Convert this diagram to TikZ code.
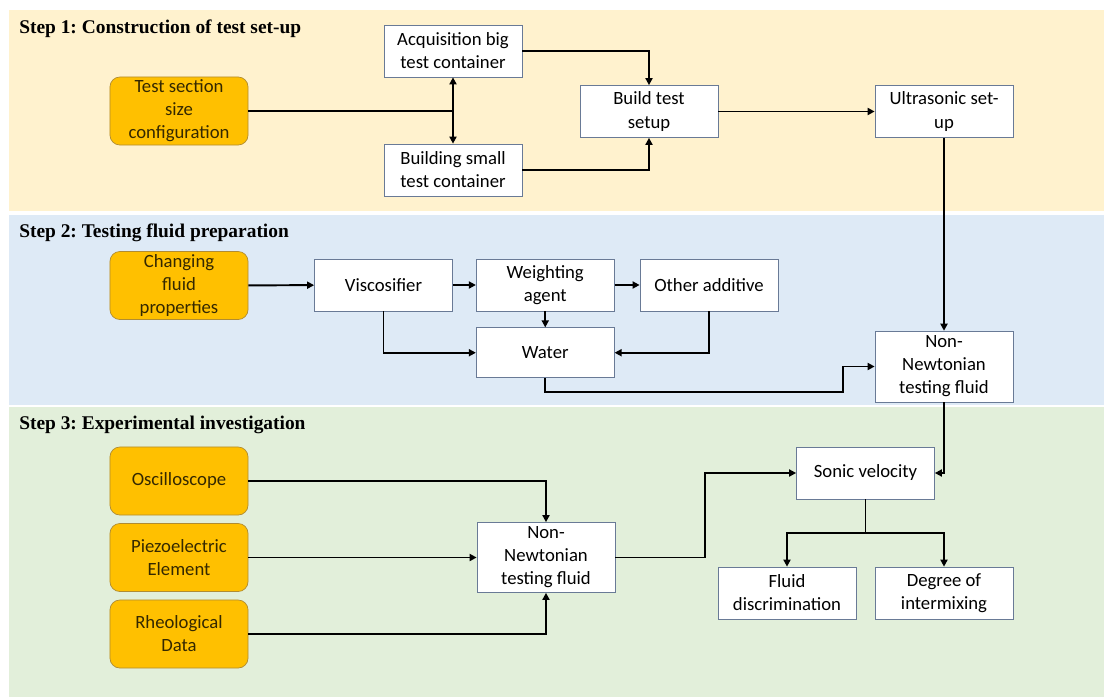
\documentclass[tikz,border=0pt]{standalone}
\usepackage{fontspec}
\setmainfont{Carlito}
\newfontfamily\titlefont{Liberation Serif}
\usetikzlibrary{arrows.meta,positioning,calc}
\definecolor{bandyellow}{RGB}{255,242,206}
\definecolor{bandblue}{RGB}{222,234,246}
\definecolor{bandgreen}{RGB}{226,239,218}
\definecolor{amber}{RGB}{255,192,0}
\definecolor{amberline}{RGB}{176,140,50}
\definecolor{boxline}{RGB}{105,122,150}
\definecolor{ambertext}{RGB}{52,40,0}
\frenchspacing

\begin{document}
\begin{tikzpicture}[x=0.025cm,y=-0.025cm,
  box/.style={draw=boxline,fill=white,line width=0.5pt,minimum width=3.45cm,minimum height=1.3cm,inner sep=1pt,align=center,font=\fontsize{13.3}{16.4}\selectfont},
  inbox/.style={draw=amberline,fill=amber,rounded corners=7pt,line width=0.5pt,minimum width=3.45cm,minimum height=1.7cm,inner sep=1pt,align=center,text=ambertext,font=\fontsize{13.3}{16.4}\selectfont},
  steptitle/.style={anchor=base west,inner sep=0pt,font=\titlefont\bfseries\fontsize{13.8}{16}\selectfont},
  flow/.style={line width=1.4pt,-{Triangle[length=5pt,width=5pt]}},
  plain/.style={line width=1.4pt}]
  \useasboundingbox (0,0) rectangle (1104,697);
  % bands
  \fill[bandyellow] (9,10) rectangle (1104,211);
  \fill[bandblue] (9,215) rectangle (1104,405);
  \fill[bandgreen] (9,407) rectangle (1104,697);
  \node[steptitle] (t1) at (19,33) {Step 1: Construction of test set-up};
  \node[steptitle] (t2) at (19,237) {Step 2: Testing fluid preparation};
  \node[steptitle] (t3) at (19,429) {Step 3: Experimental investigation};

  % step 1
  \node[inbox] (tsc) at (179,111) {Test section\\size\\configuration};
  \node[box] (acq) at (453,51) {Acquisition big\\test container};
  \node[box] (bsc) at (453,170) {Building small\\test container};
  \node[box] (bts) at (649,111.5) {Build test\\setup};
  \node[box] (uls) at (944,111.5) {Ultrasonic set-\\up};

  % step 2
  \node[inbox] (cfp) at (179,285.5) {Changing\\fluid\\properties};
  \node[box] (vis) at (383.5,285) {Viscosifier};
  \node[box,right=0.575cm of vis] (wag) {Weighting\\agent};
  \node[box,right=0.625cm of wag] (oad) {Other additive};
  \node[box,minimum height=1.25cm,below=0.4cm of wag] (wat) {Water};
  \node[box,minimum height=1.77cm] (nnf) at (944,366.5) {Non-\\Newtonian\\testing fluid};

  % step 3
  \node[inbox] (osc) at (179,481) {Oscilloscope};
  \node[inbox] (pze) at (179,557.5) {Piezoelectric\\Element};
  \node[inbox] (rhd) at (179,634) {Rheological\\Data};
  \node[box,minimum height=1.75cm] (nnt) at (546,557.5) {Non-\\Newtonian\\testing fluid};
  \node[box] (snv) at (865.5,473) {Sonic velocity};
  \node[box] (fdc) at (787,593) {Fluid\\discrimination};
  \node[box] (doi) at (944,593) {Degree of\\intermixing};

  % connectors
  \draw[plain] (tsc) -- (tsc -| acq);
  \draw[line width=1.4pt,{Triangle[length=5pt,width=5pt]}-{Triangle[length=5pt,width=5pt]}] (acq) -- (bsc);
  \draw[flow] (acq) -| (bts);
  \draw[flow] (bsc) -| (bts);
  \draw[flow] (bts) -- (uls);
  \draw[flow] (uls) -- (nnf);
  \draw[flow] (cfp) -- (vis);
  \draw[flow] (vis) -- (wag);
  \draw[flow] (wag) -- (oad);
  \draw[flow] (wag) -- (wat);
  \draw[flow] (vis) |- (wat);
  \draw[flow] (oad) |- (wat);
  \coordinate (wbend) at (843,392);
  \draw[flow] (wat.south) |- (wbend) |- (nnf.west);
  \draw[flow] (nnf) |- (snv);
  \draw[flow] (osc) -| (nnt);
  \draw[flow] (pze) -- (nnt);
  \draw[flow] (rhd) -| (nnt);
  \draw[flow] (nnt.east) -- ++(90,0) |- (snv.west);
  \coordinate (br) at (865.5,533);
  \draw[plain] (snv) -- (br);
  \draw[flow] (br) -| (fdc);
  \draw[flow] (br) -| (doi);
\end{tikzpicture}
\end{document}
